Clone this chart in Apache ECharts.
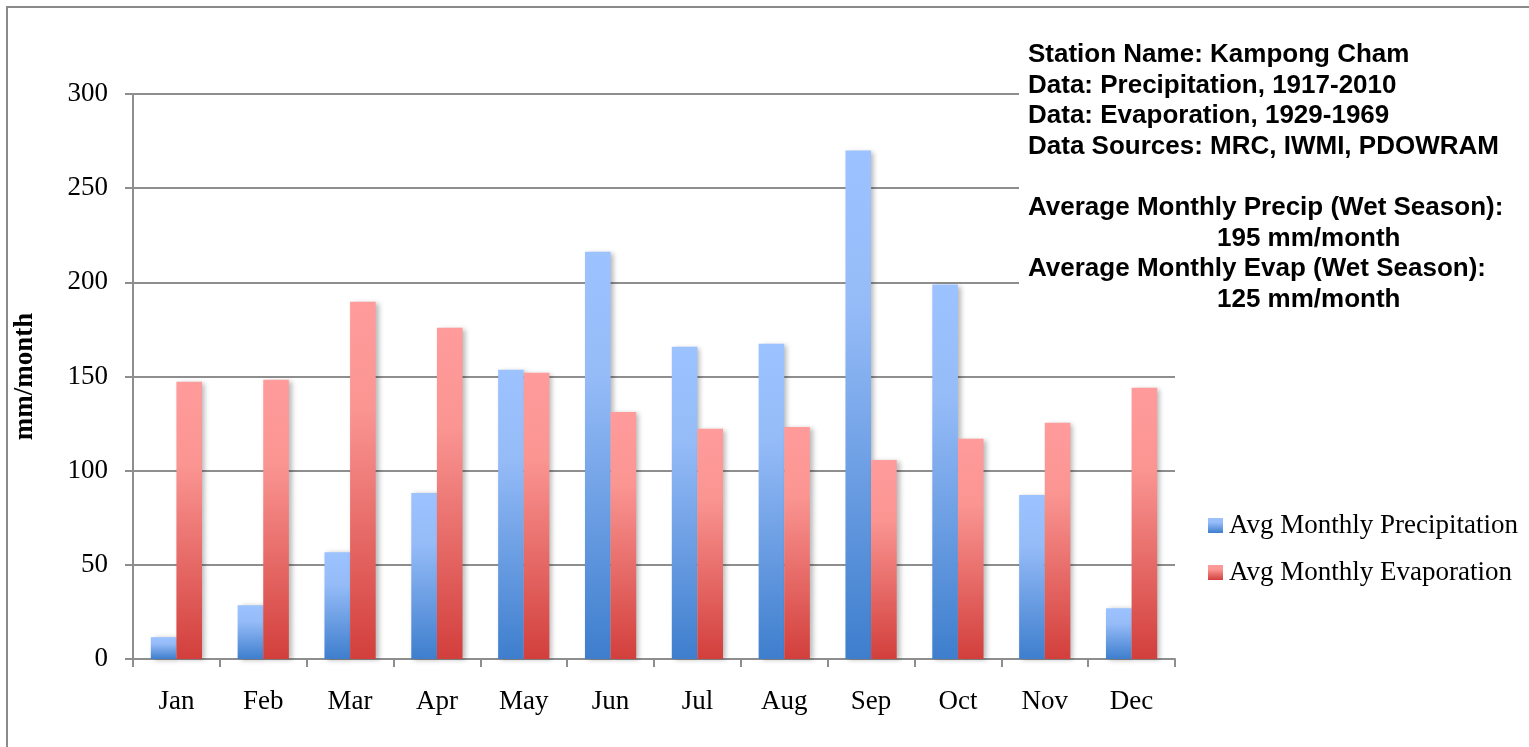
<!DOCTYPE html>
<html>
<head>
<meta charset="utf-8">
<title>Kampong Cham – Monthly Precipitation and Evaporation</title>
<script src="https://cdn.jsdelivr.net/npm/echarts@6/dist/echarts.min.js"></script>
<style>
  html, body { margin: 0; padding: 0; background: #ffffff; }
  #chart { width: 1529px; height: 747px; }
</style>
</head>
<body>
<div id="chart"></div>
<script>
// Months on the category axis
const months = ['Jan', 'Feb', 'Mar', 'Apr', 'May', 'Jun', 'Jul', 'Aug', 'Sep', 'Oct', 'Nov', 'Dec'];

// Average monthly precipitation, mm/month
const precipitation = [11.6, 28.6, 56.7, 88.1, 153.6, 216.3, 165.8, 167.4, 270.0, 198.8, 87.1, 27.0];

// Average monthly evaporation, mm/month
const evaporation = [147.2, 148.3, 189.7, 175.9, 152.0, 131.2, 122.2, 123.2, 105.7, 116.9, 125.4, 144.0];

// Series names shown in the legend
const seriesNames = ['Avg Monthly Precipitation', 'Avg Monthly Evaporation'];

// Station notes in the upper right corner
const noteLines = [
  'Station Name: Kampong Cham',
  'Data: Precipitation, 1917-2010',
  'Data: Evaporation, 1929-1969',
  'Data Sources: MRC, IWMI, PDOWRAM'
];
const summaryLines = [
  ['Average Monthly Precip (Wet Season):', '195 mm/month'],
  ['Average Monthly Evap (Wet Season):', '125 mm/month']
];

const SERIF = '"Liberation Serif", "Times New Roman", serif';
const SANS = '"Liberation Sans", Arial, sans-serif';
const LINE = '#8e8e8e';

function vGrad(stops) {
  return new echarts.graphic.LinearGradient(0, 0, 0, 1,
    stops.map(s => ({ offset: s[0], color: s[1] })));
}
const blueFill = vGrad([[0, '#9cc2ff'], [0.3, '#96bcf8'], [1, '#3e7ecd']]);
const redFill = vGrad([[0, '#ff9b9b'], [0.3, '#fa9592'], [1, '#d23f3c']]);

const chart = echarts.init(document.getElementById('chart'), null, { renderer: 'canvas' });

// Text block: header lines then the two wet-season averages
const noteGraphics = [];
const lineStep = 30.6;
const firstBaseline = 62;
const noteFont = 'bold 26px ' + SANS;
noteLines.forEach((t, i) => {
  noteGraphics.push({
    type: 'text', left: 1028, top: firstBaseline + i * lineStep - 20, z: 10,
    style: { text: t, font: noteFont, fill: '#000' }
  });
});
summaryLines.forEach((pair, j) => {
  const base = firstBaseline + (5 + j * 2) * lineStep;
  noteGraphics.push({
    type: 'text', left: 1028, top: base - 20, z: 10,
    style: { text: pair[0], font: noteFont, fill: '#000' }
  });
  noteGraphics.push({
    type: 'text', left: 1217, top: base + lineStep - 20, z: 10,
    style: { text: pair[1], font: noteFont, fill: '#000' }
  });
});

const barShadow = {
  shadowColor: 'rgba(0,0,0,0.28)',
  shadowBlur: 5,
  shadowOffsetX: 3,
  shadowOffsetY: 1
};

chart.setOption({
  backgroundColor: '#ffffff',
  animation: false,
  grid: { left: 133, right: 354, top: 94, bottom: 88, containLabel: false },
  legend: {
    orient: 'vertical',
    left: 1203,
    top: 507,
    itemWidth: 15,
    itemHeight: 15,
    itemGap: 20,
    icon: 'rect',
    data: seriesNames,
    textStyle: { fontFamily: SERIF, fontSize: 27, color: '#000', padding: [0, 0, 0, 1] }
  },
  xAxis: {
    type: 'category',
    data: months,
    boundaryGap: true,
    axisLine: { lineStyle: { color: LINE, width: 2 } },
    axisTick: { show: true, length: 8, alignWithLabel: false, lineStyle: { color: LINE, width: 2 } },
    axisLabel: { fontFamily: SERIF, fontSize: 27, color: '#000', margin: 29 },
    splitLine: { show: false }
  },
  yAxis: {
    type: 'value',
    min: 0,
    max: 300,
    interval: 50,
    name: 'mm/month',
    nameLocation: 'middle',
    nameGap: 94,
    nameRotate: 90,
    nameTextStyle: { fontFamily: SERIF, fontSize: 27, fontWeight: 'bold', color: '#000' },
    axisLine: { show: true, lineStyle: { color: LINE, width: 2 } },
    axisTick: { show: true, length: 8, lineStyle: { color: LINE, width: 2 } },
    axisLabel: { fontFamily: SERIF, fontSize: 27, color: '#000', margin: 25 },
    splitLine: { show: true, lineStyle: { color: LINE, width: 2 } }
  },
  series: [
    {
      name: seriesNames[0],
      type: 'bar',
      data: precipitation,
      barGap: '0%',
      barCategoryGap: '41%',
      itemStyle: Object.assign({ color: blueFill }, barShadow),
      z: 3
    },
    {
      name: seriesNames[1],
      type: 'bar',
      data: evaporation,
      barGap: '0%',
      barCategoryGap: '41%',
      itemStyle: Object.assign({ color: redFill }, barShadow),
      z: 3
    }
  ],
  graphic: [
    // outer frame of the chart area
    {
      type: 'rect', z: 1, silent: true,
      shape: { x: 7, y: 7, width: 1600, height: 800 },
      style: { fill: 'none', stroke: '#8a8a8a', lineWidth: 2 }
    },
    // white panel behind the station notes
    {
      type: 'rect', z: 5, silent: true,
      shape: { x: 1019, y: 30, width: 510, height: 290 },
      style: { fill: '#ffffff' }
    }
  ].concat(noteGraphics)
});
</script>
</body>
</html>
